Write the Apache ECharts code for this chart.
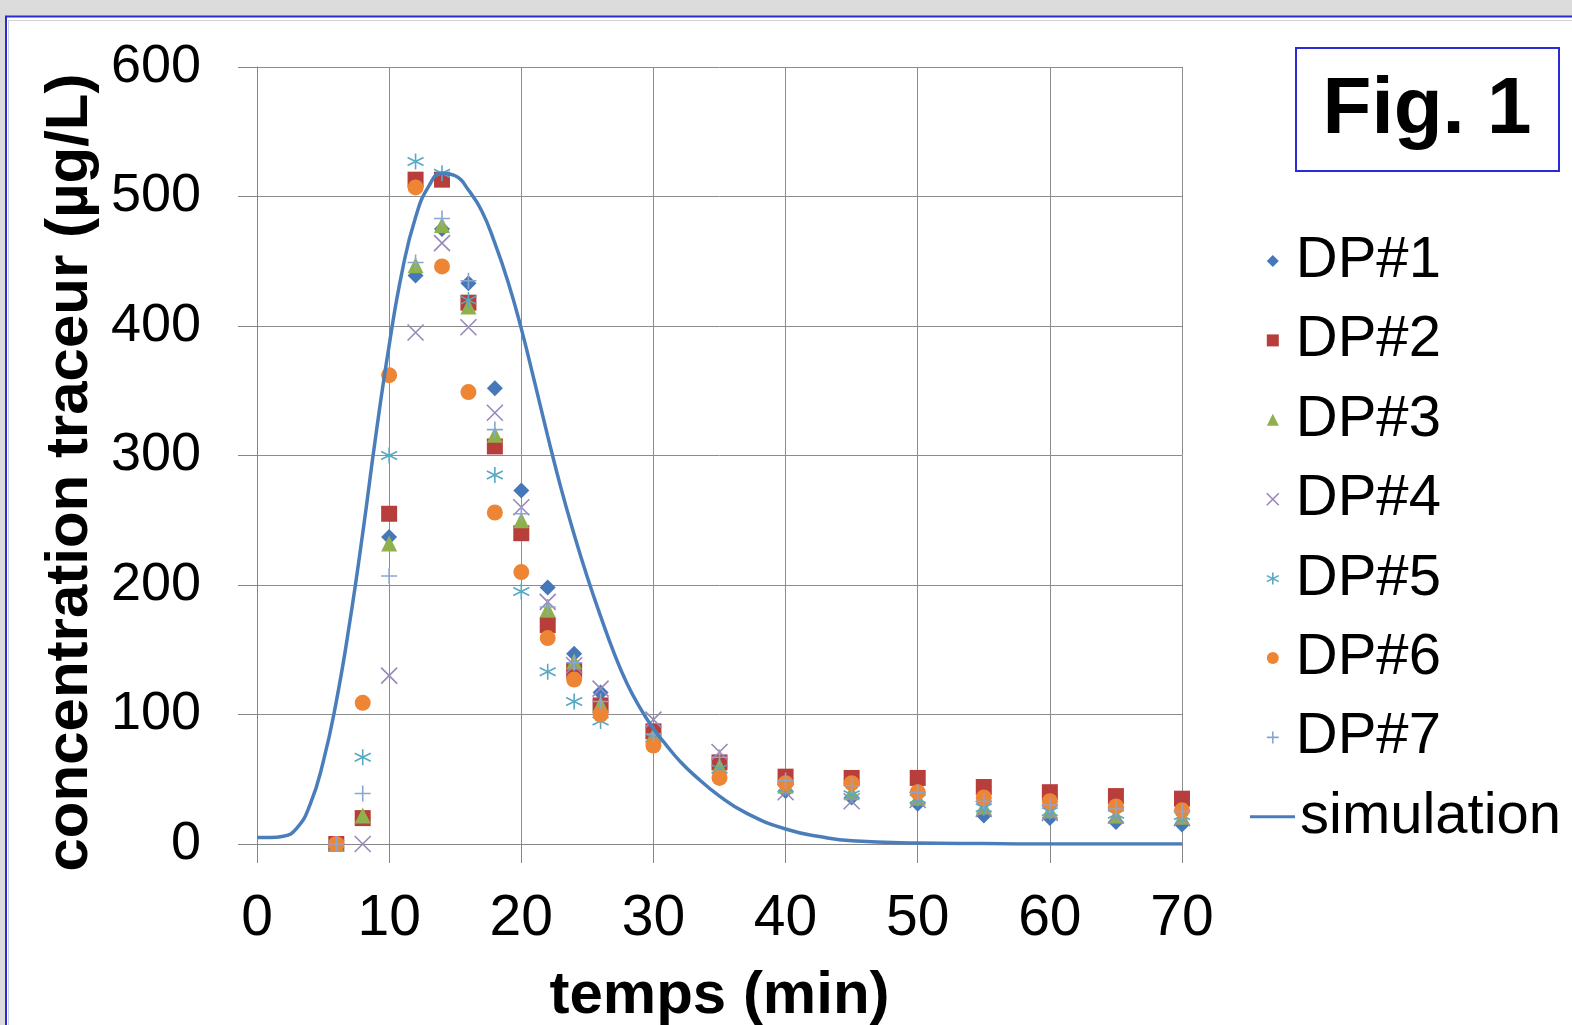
<!DOCTYPE html>
<html><head><meta charset="utf-8">
<script src="https://cdn.jsdelivr.net/npm/echarts@6/dist/echarts.min.js"></script>
<style>html,body{margin:0;padding:0;background:#fff}#c{width:1572px;height:1025px}</style>
</head><body><div id="c"></div>
<script>
// sampling times (min)
const times = [6, 8, 10, 12, 14, 16, 18, 20, 22, 24, 26, 30, 35, 40, 45, 50, 55, 60, 65, 70];
// measured tracer concentrations (µg/L)
const DP1 = [0, 20, 237, 439, 475, 433, 352, 273, 198, 147, 117, 82, 60, 41, 36, 31, 22, 20, 17, 15];
const DP2 = [0, 20, 255, 513, 513, 418, 307, 240, 169, 134, 107, 87, 63, 52, 51, 51, 44, 40, 37, 35];
const DP3 = [0, 22, 232, 447, 478, 415, 316, 250, 181, 141, 108, 84, 60, 45, 40, 36, 29, 26, 22, 21];
const DP4 = [null, 0, 130, 395, 464, 399, 333, 260, 187, 138, 120, 96, 71, 40, 33, 34, 27, 24, 22, 20];
const DP5 = [0, 67, 300, 527, 518, 420, 285, 195, 133, 110, 95, 82, 58, 43, 38, 35, 28, 25, 23, 22];
const DP6 = [0, 109, 362, 507, 446, 349, 256, 210, 159, 127, 100, 76, 51, 47, 47, 40, 36, 33, 29, 26];
const DP7 = [0, 39, 207, 449, 483, 435, 320, 255, 183, 140, 110, 85, 67, 49, 45, 40, 33, 30, 27, 25];
// simulation curve
const simT = [0, 1, 2, 3, 4, 5, 6, 7, 8, 9, 10, 11, 12, 13, 14, 15, 16, 17, 18, 19, 20, 21, 22, 23, 24, 25, 26, 27, 28, 29, 30, 31, 32, 33, 35, 37, 40, 43, 45, 50, 55, 60, 65, 70];
const simV = [5, 5, 6, 12, 30, 63, 110, 170, 240, 316, 385, 443, 484, 508, 518, 516, 505, 489, 464, 434, 398, 357, 315, 275, 239, 206, 176, 148, 124, 105, 89, 76, 64, 54, 37, 24, 11.6, 5, 2.5, 0.8, 0.3, 0, 0, 0];
const xTicks = [0, 10, 20, 30, 40, 50, 60, 70];
const yTicks = [0, 100, 200, 300, 400, 500, 600];

const names = ['DP#1', 'DP#2', 'DP#3', 'DP#4', 'DP#5', 'DP#6', 'DP#7'];
const values = [DP1, DP2, DP3, DP4, DP5, DP6, DP7];
const colors = ['#4677b8', '#b83e3b', '#8fb14c', '#9a87bb', '#58a9c4', '#ee8535', '#8aa6d0'];
const symbols = ['diamond', 'rect', 'triangle',
  'path://M0,0L10,10M10,0L0,10',
  'path://M5,0L5,10M0,2.5L10,7.5M0,7.5L10,2.5',
  'circle',
  'path://M5,0L5,10M0,5L10,5'];
const stroked = [false, false, false, true, true, false, true];

const FONT = '"Liberation Sans", Arial, sans-serif';
const styleOf = i => stroked[i]
  ? { color: 'rgba(0,0,0,0)', borderColor: colors[i], borderWidth: 1.6, opacity: 1 }
  : { color: colors[i], opacity: 1 };
const series = names.map((n, i) => ({
  name: n,
  type: 'scatter',
  symbol: symbols[i],
  symbolSize: 16,
  data: times.map((t, k) => values[i][k] == null ? null : [t, values[i][k]]).filter(d => d),
  itemStyle: styleOf(i),
  emphasis: { disabled: true }
}));
series.push({
  name: 'simulation',
  type: 'line',
  smooth: 0.5,
  symbol: 'none',
  data: simT.map((t, k) => [t, simV[k]]),
  lineStyle: { color: '#4a7ebb', width: 3.5 },
  itemStyle: { color: '#4a7ebb' },
  z: 5
});

const chart = echarts.init(document.getElementById('c'), null, { renderer: 'canvas' });
chart.setOption({
  animation: false,
  backgroundColor: '#ffffff',
  textStyle: { fontFamily: FONT },
  grid: { left: 257, right: 390, top: 67, bottom: 181, containLabel: false, outerBoundsMode: 'none' },
  xAxis: {
    type: 'value', min: 0, max: 70, interval: 10,
    name: 'temps (min)', nameLocation: 'middle', nameGap: 122,
    nameTextStyle: { fontFamily: FONT, fontSize: 60, fontWeight: 'bold', color: '#000' },
    axisLine: { show: true, lineStyle: { color: '#868686', width: 1 } },
    axisTick: { show: true, length: 19, lineStyle: { color: '#868686' } },
    axisLabel: { fontFamily: FONT, fontSize: 57, color: '#000', margin: 47,
      formatter: v => xTicks.includes(v) ? String(v) : '' },
    splitLine: { show: true, lineStyle: { color: '#8c8c8c', width: 1 } }
  },
  yAxis: {
    type: 'value', min: 0, max: 600, interval: 100,
    name: 'concentration traceur (µg/L)', nameLocation: 'middle', nameGap: 147, nameRotate: 90,
    nameTextStyle: { fontFamily: FONT, fontSize: 60, fontWeight: 'bold', color: '#000', padding: [0, 34, 0, 0] },
    axisLine: { show: true, lineStyle: { color: '#868686', width: 1 } },
    axisTick: { show: true, length: 19, lineStyle: { color: '#868686' } },
    axisLabel: { fontFamily: FONT, fontSize: 54, color: '#000', margin: 56,
      formatter: v => yTicks.includes(v) ? String(v) : '' },
    splitLine: { show: true, lineStyle: { color: '#8c8c8c', width: 1 } }
  },
  legend: [{
    orient: 'vertical', left: 1261, top: 226,
    itemWidth: 12, itemHeight: 12, itemGap: 19.4, itemTextGap: 10,
    textStyle: { fontFamily: FONT, fontSize: 58, color: '#000', lineHeight: 60, padding: [0, 0, 0, 12] },
    data: names.map((n, i) => ({ name: n, icon: symbols[i], itemStyle: styleOf(i) }))
  }, {
    orient: 'vertical', left: 1245, top: 226 + 7 * 79.4,
    itemWidth: 45, itemHeight: 3, itemTextGap: 5,
    textStyle: { fontFamily: FONT, fontSize: 58, color: '#000', lineHeight: 60 },
    data: [{ name: 'simulation', icon: 'rect', itemStyle: { color: '#4a7ebb' } }]
  }],
  graphic: [
    { type: 'rect', shape: { x: 0, y: 0, width: 1572, height: 16 }, style: { fill: '#dcdcdc' }, silent: true },
    { type: 'rect', shape: { x: 0, y: 0, width: 5, height: 1025 }, style: { fill: '#dcdcdc' }, silent: true },
    { type: 'line', shape: { x1: 5, y1: 16.5, x2: 1572, y2: 16.5 }, style: { stroke: '#2a2ad8', lineWidth: 2 }, silent: true },
    { type: 'line', shape: { x1: 6, y1: 16, x2: 6, y2: 1025 }, style: { stroke: '#2a2ad8', lineWidth: 2 }, silent: true },
    { type: 'line', shape: { x1: 8, y1: 20.5, x2: 1572, y2: 20.5 }, style: { stroke: '#d0d0d0', lineWidth: 1 }, silent: true },
    { type: 'line', shape: { x1: 8.5, y1: 20, x2: 8.5, y2: 1025 }, style: { stroke: '#d0d0d0', lineWidth: 1 }, silent: true },
    { type: 'rect', shape: { x: 1296, y: 48, width: 263, height: 123 }, style: { fill: '#fff', stroke: '#2a2ad8', lineWidth: 2 }, silent: true },
    { type: 'text', x: 1427, y: 111, style: { text: 'Fig. 1', font: 'bold 80px ' + FONT, fill: '#000', textAlign: 'center', textVerticalAlign: 'middle' }, silent: true }
  ],
  series: series
});
</script>
</body></html>
